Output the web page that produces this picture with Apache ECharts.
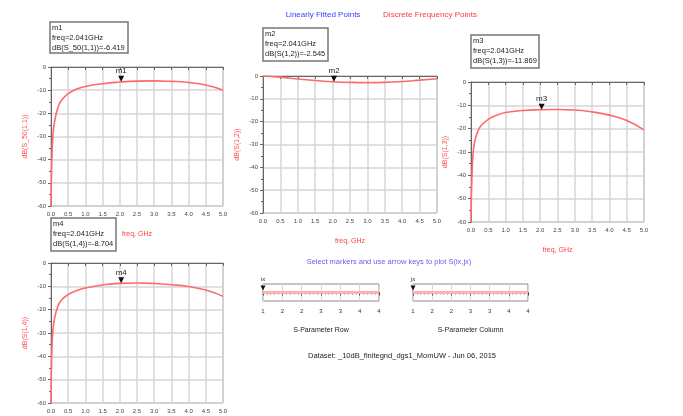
<!DOCTYPE html>
<html><head><meta charset="utf-8">
<script src="https://cdn.jsdelivr.net/npm/echarts@6/dist/echarts.min.js"></script>
<style>html,body{margin:0;padding:0;background:#fff}#c{width:683px;height:416px}</style>
</head><body><div id="c"></div>
<script>
const freq = [0, 0.01, 0.03, 0.05, 0.1, 0.2, 0.3, 0.5, 0.75, 1.0, 1.5, 2.0, 2.5, 3.0, 3.5, 4.0, 4.5, 5.0];
const s11 = [-60, -50, -38, -31, -24, -17.5, -14.5, -11.5, -9.5, -8.4, -7.2, -6.5, -6.1, -6.0, -6.2, -6.7, -7.8, -10.0];
const s12 = [0, -0.01, -0.03, -0.05, -0.1, -0.2, -0.3, -0.5, -0.9, -1.3, -2.0, -2.5, -2.8, -2.9, -2.8, -2.4, -1.8, -1.2];
const s13 = [-60, -50, -40, -33, -26, -21, -18.5, -16, -14.2, -13.1, -12.2, -11.9, -11.8, -12.0, -12.8, -14.2, -16.5, -20.5];
const s14 = [-60, -48, -36, -30, -24, -18.5, -16, -13.5, -11.8, -10.7, -9.4, -8.75, -8.6, -8.8, -9.3, -10.1, -11.6, -14.3];
const yNames = ['dB(S_50(1,1))', 'dB(S(1,2))', 'dB(S(1,3))', 'dB(S(1,4))'];
const markerNames = ['m1', 'm2', 'm3', 'm4'];
const markerFreq = 2.041;
const markerVals = [-6.419, -2.545, -11.869, -8.704];
const sliderRange = [1, 4];
const sliderNames = ['S-Parameter Row', 'S-Parameter Column'];
const sliderMarkers = ['ix', 'jx'];

const chart = echarts.init(document.getElementById('c'), null, {renderer: 'canvas'});
const FONT = "'Liberation Sans', Arial, sans-serif";
const series = [s11, s12, s13, s14];
const grids = [
  {left: 51, top: 67, width: 172, height: 139},
  {left: 263, top: 76, width: 174, height: 137},
  {left: 471, top: 82, width: 173, height: 140},
  {left: 51, top: 263, width: 172, height: 140},
  {left: 263, top: 284, width: 116, height: 17},
  {left: 413, top: 284, width: 115, height: 17}
];
const gridOpt = grids.map(g => Object.assign({show: true, borderColor: '#8a8a8a', borderWidth: 1, backgroundColor: '#fff', containLabel: false, outerBoundsMode: 'none'}, g));
const xAxes = [], yAxes = [], ser = [];
for (let i = 0; i < 4; i++) {
  xAxes.push({
    gridIndex: i, type: 'value', min: 0, max: 5, interval: 0.5,
    name: 'freq, GHz', nameLocation: 'middle', nameGap: 25,
    nameTextStyle: {color: '#ff4040', fontSize: 7, fontFamily: FONT},
    axisLine: {show: true, lineStyle: {color: '#666'}},
    axisTick: {show: true, length: 3, lineStyle: {color: '#666'}},
    axisLabel: {fontSize: 6, color: '#444', margin: 5, fontFamily: FONT, formatter: v => v.toFixed(1)},
    splitLine: {show: true, lineStyle: {color: '#d6d6d6', width: 1.5}}
  });
  yAxes.push({
    gridIndex: i, type: 'value', min: -60, max: 0, interval: 10,
    name: yNames[i], nameLocation: 'middle', nameGap: 22, nameRotate: 90,
    nameTextStyle: {color: '#ff5050', fontSize: 7, fontFamily: FONT},
    axisLine: {show: true, lineStyle: {color: '#666'}},
    axisTick: {show: true, length: 3, lineStyle: {color: '#666'}},
    minorTick: {show: true, splitNumber: 2, length: 2, lineStyle: {color: '#666'}},
    axisLabel: {fontSize: 6, color: '#444', margin: 5, fontFamily: FONT},
    splitLine: {show: true, lineStyle: {color: '#d6d6d6', width: 1.5}}
  });
  ser.push({
    type: 'line', xAxisIndex: i, yAxisIndex: i,
    data: freq.map((f, k) => [f, series[i][k]]),
    showSymbol: false, smooth: 0.5,
    lineStyle: {color: '#ff6a6a', width: 1.6},
    markPoint: {
      symbol: 'triangle', symbolRotate: 180, symbolSize: [6, 6], symbolOffset: [0, -3],
      itemStyle: {color: '#111'},
      label: {show: true, position: 'top', distance: 1, formatter: markerNames[i], color: '#222', fontSize: 8, fontFamily: FONT},
      data: [{coord: [markerFreq, markerVals[i]]}]
    },
    z: 3
  });
}
for (let j = 0; j < 2; j++) {
  const gi = 4 + j;
  xAxes.push({
    gridIndex: gi, type: 'value', min: sliderRange[0], max: sliderRange[1], interval: 0.5,
    name: sliderNames[j], nameLocation: 'middle', nameGap: 26,
    nameTextStyle: {color: '#222', fontSize: 7, fontFamily: FONT},
    axisLine: {show: true, lineStyle: {color: '#444'}},
    axisTick: {show: true, length: 3, lineStyle: {color: '#444'}},
    minorTick: {show: true, splitNumber: 5, length: 2, lineStyle: {color: '#666'}},
    axisLabel: {fontSize: 6, color: '#333', margin: 7, fontFamily: FONT, formatter: v => String(Math.round(v))},
    splitLine: {show: true, lineStyle: {color: '#d8d8d8', width: 1}}
  });
  yAxes.push({gridIndex: gi, type: 'value', min: -1, max: 1, show: false, splitLine: {show: false}});
  ser.push({
    type: 'line', xAxisIndex: gi, yAxisIndex: gi,
    data: [[sliderRange[0], 0], [sliderRange[1], 0]],
    showSymbol: false, lineStyle: {color: '#ffb0b0', width: 3},
    markPoint: {
      symbol: 'triangle', symbolRotate: 180, symbolSize: [5, 5], symbolOffset: [0, 4],
      itemStyle: {color: '#111'},
      label: {show: true, position: 'top', distance: 3, formatter: sliderMarkers[j], color: '#222', fontSize: 6, fontFamily: FONT},
      data: [{coord: [sliderRange[0], 1]}]
    }
  });
}

function box(x, y, w, h, lines) {
  return [
    {type: 'rect', shape: {x: x, y: y, width: w, height: h}, style: {fill: '#fff', stroke: '#777', lineWidth: 1.5}, z: 10},
    {type: 'text', x: x + 2, y: y + 1, style: {text: lines.join('\n'), fill: '#222', font: "7.5px " + FONT, lineHeight: 9.8}, z: 11}
  ];
}
const graphic = [].concat(
  box(50, 22, 78, 31, ['m1', 'freq=2.041GHz', 'dB(S_50(1,1))=-6.419']),
  box(263, 28, 65, 33, ['m2', 'freq=2.041GHz', 'dB(S(1,2))=-2.545']),
  box(471, 35, 68, 33, ['m3', 'freq=2.041GHz', 'dB(S(1,3))=-11.869']),
  box(51, 218, 65, 33, ['m4', 'freq=2.041GHz', 'dB(S(1,4))=-8.704']),
  [
    {type: 'text', x: 323, y: 15, style: {text: 'Linearly Fitted Points', fill: '#3a3aff', font: "8px " + FONT, textAlign: 'center', textVerticalAlign: 'middle'}},
    {type: 'text', x: 430, y: 15, style: {text: 'Discrete Frequency Points', fill: '#ff3a3a', font: "8px " + FONT, textAlign: 'center', textVerticalAlign: 'middle'}},
    {type: 'text', x: 389, y: 262, style: {text: 'Select markers and use arrow keys to plot S(ix,jx)', fill: '#6b5cf0', font: "7.5px " + FONT, textAlign: 'center', textVerticalAlign: 'middle'}},
    {type: 'text', x: 402, y: 356, style: {text: 'Dataset: _10dB_finitegnd_dgs1_MomUW - Jun 06, 2015', fill: '#222', font: "7.5px " + FONT, textAlign: 'center', textVerticalAlign: 'middle'}}
  ]
);

chart.setOption({
  animation: false,
  backgroundColor: '#fff',
  grid: gridOpt,
  xAxis: xAxes,
  yAxis: yAxes,
  series: ser,
  graphic: graphic
});
</script></body></html>
